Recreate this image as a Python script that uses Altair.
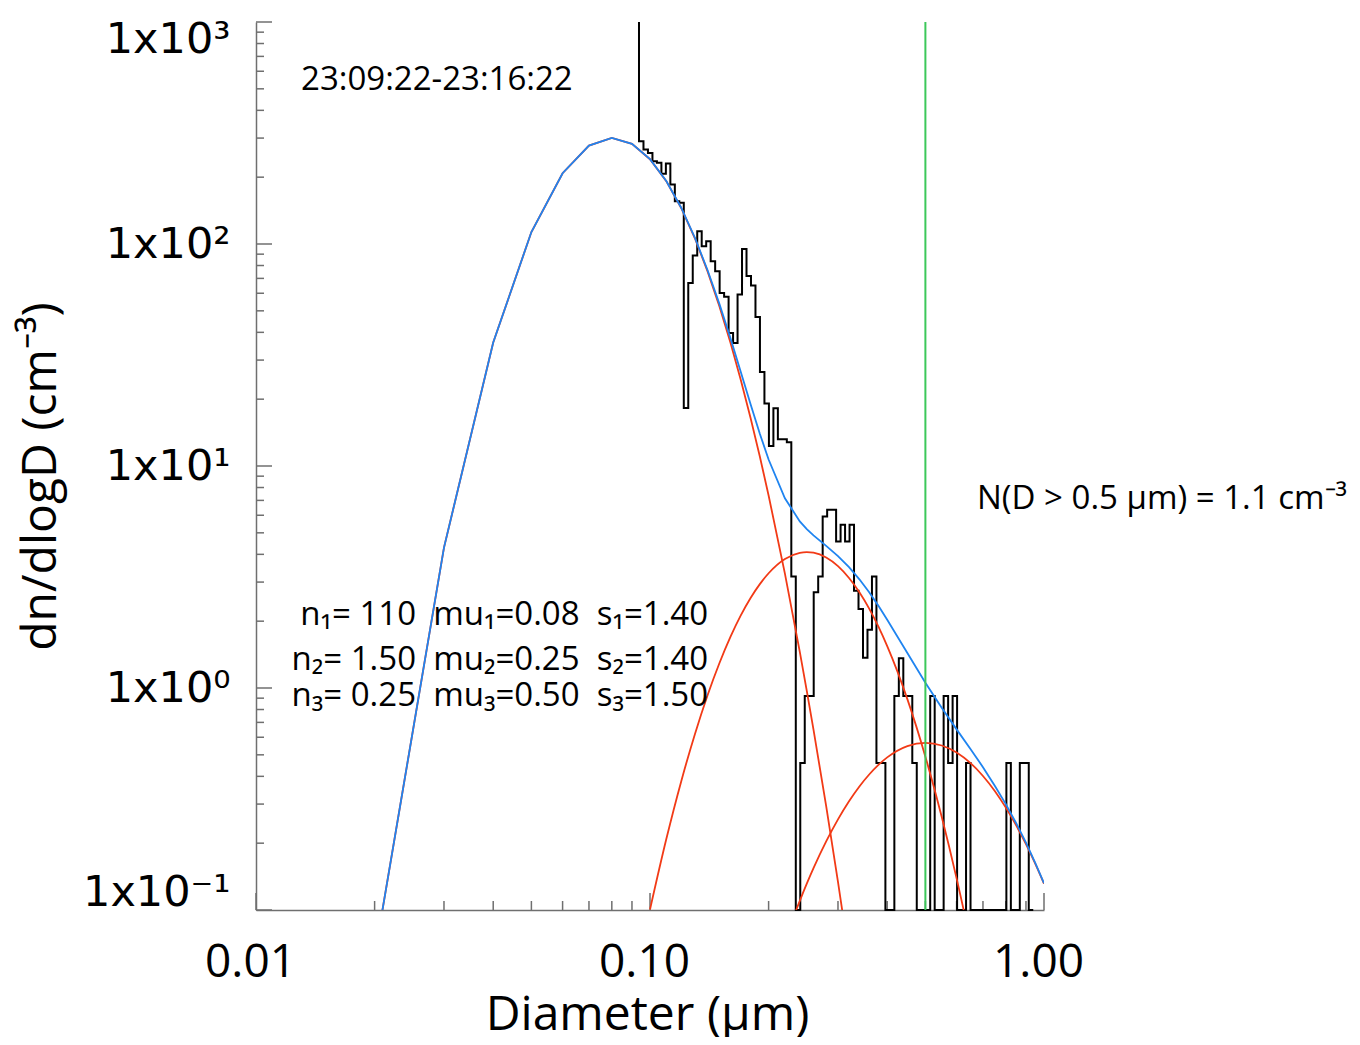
import altair as alt
import pandas as pd

# ---------------- data ----------------
x_ticks_major = [0.01, 0.1, 1.0]
x_tick_labels = ["0.01", "0.10", "1.00"]
x_ticks_minor = [0.02, 0.03, 0.04, 0.05, 0.06, 0.07, 0.08, 0.09,
                 0.2, 0.3, 0.4, 0.5, 0.6, 0.7, 0.8, 0.9]
y_ticks_major = [0.1, 1, 10, 100, 1000]
y_tick_labels = ["1x10⁻¹", "1x10⁰", "1x10¹", "1x10²", "1x10³"]
y_ticks_minor = [0.2, 0.3, 0.4, 0.5, 0.6, 0.7, 0.8, 0.9,
                 2, 3, 4, 5, 6, 7, 8, 9,
                 20, 30, 40, 50, 60, 70, 80, 90,
                 200, 300, 400, 500, 600, 700, 800, 900]

# histogram bin edges (um) and dn/dlogD per bin
hist_edges = [0.09377, 0.09626, 0.09881, 0.10144, 0.10412, 0.10689, 0.10972, 0.11263, 0.11562, 0.11868,
              0.12183, 0.12506, 0.12838, 0.13179, 0.13528, 0.13887, 0.14256, 0.14634, 0.15022, 0.15421,
              0.15830, 0.16250, 0.16681, 0.17123, 0.17577, 0.18044, 0.18522, 0.19013, 0.19518, 0.20036,
              0.20568, 0.21113, 0.21674, 0.22248, 0.22838, 0.23444, 0.24066, 0.24704, 0.25359, 0.26032,
              0.26723, 0.27432, 0.28159, 0.28906, 0.29673, 0.30460, 0.31267, 0.32097, 0.32948, 0.33822,
              0.34723, 0.35644, 0.36589, 0.37559, 0.38555, 0.39578, 0.40628, 0.41705, 0.42811, 0.43946,
              0.45117, 0.46314, 0.47542, 0.48803, 0.50097, 0.51426, 0.52790, 0.54190, 0.55627, 0.57102,
              0.58620, 0.60175, 0.61771, 0.63409, 0.65091, 0.66817, 0.68589, 0.70408, 0.72275, 0.74192,
              0.76166, 0.78186, 0.80260, 0.82388, 0.84573, 0.86816, 0.89118, 0.91482, 0.93918]
hist_values = [290.2, 266.3, 257.3, 235.9, 232.0, 207.0, 230.3, 185.2, 155.7, 153.2,
               18.25, 66.8, 88.7, 114.1, 97.6, 102.8, 83.6, 75.3, 60.2, 57.8,
               39.7, 35.8, 59.2, 95.0, 71.8, 65.1, 46.9, 26.5, 19.1, 12.3,
               18.2, 13.2, 13.2, 12.8, 3.18, 0.1, 0.459, 0.92, 0.92, 2.70,
               3.18, 5.93, 6.35, 6.35, 4.57, 5.44, 4.57, 5.44, 2.74, 2.27,
               1.37, 1.83, 3.18, 0.459, 0.459, 0.1, 0.1, 0.92, 1.36, 0.92,
               0.92, 0.459, 0.1, 0.1, 0.1, 0.92, 0.1, 0.1, 0.92, 0.459,
               0.92, 0.1, 0.1, 0.459, 0.1, 0.1, 0.1, 0.1, 0.1, 0.1,
               0.1, 0.1, 0.459, 0.1, 0.1, 0.459, 0.459, 0.1]
hist_spike_top = 1000

# total fit (blue)
blue_d = [0.02, 0.03, 0.04, 0.05, 0.06, 0.07, 0.08, 0.09, 0.10, 0.11, 0.12, 0.13, 0.14, 0.15,
          0.16, 0.17, 0.18, 0.19, 0.20, 0.22, 0.24, 0.25, 0.26, 0.28, 0.30, 0.32, 0.34, 0.36,
          0.38, 0.40, 0.45, 0.50, 0.55, 0.60, 0.65, 0.70, 0.75, 0.80, 0.85, 0.90, 0.95, 1.00]
blue_v = [0.0619, 4.29, 35.98, 113.2, 208.4, 277.5, 300.3, 282.5, 241.1, 192.1, 145.7, 106.7, 76.2, 53.74,
          37.68, 26.54, 18.99, 13.97, 10.70, 7.157, 5.630, 5.197, 4.872, 4.366, 3.927, 3.500, 3.087, 2.698,
          2.344, 2.031, 1.438, 1.057, 0.814, 0.651, 0.533, 0.440, 0.363, 0.300, 0.246, 0.201, 0.163, 0.132]

# individual modes (red)
mode1_d = [0.02, 0.03, 0.04, 0.05, 0.06, 0.07, 0.08, 0.09, 0.10, 0.11, 0.12, 0.13, 0.14,
           0.15, 0.16, 0.17, 0.18, 0.19, 0.20, 0.22, 0.24, 0.25, 0.26, 0.28, 0.30, 0.32]
mode1_v = [0.0619, 4.289, 35.98, 113.2, 208.4, 277.5, 300.3, 282.5, 241.0, 191.9, 145.3, 106.1, 75.3,
           52.45, 35.98, 24.42, 16.45, 11.03, 7.367, 3.273, 1.455, 0.971, 0.650, 0.2934, 0.1339, 0.0619]
mode2_d = [0.10, 0.11, 0.12, 0.13, 0.14, 0.15, 0.16, 0.17, 0.18, 0.19, 0.20, 0.22, 0.24, 0.25,
           0.26, 0.28, 0.30, 0.32, 0.34, 0.36, 0.38, 0.40, 0.45, 0.50, 0.55, 0.60, 0.65, 0.70]
mode2_v = [0.1005, 0.2087, 0.3795, 0.6196, 0.9279, 1.293, 1.699, 2.123, 2.543, 2.937, 3.287, 3.811, 4.065, 4.095,
           4.068, 3.869, 3.537, 3.129, 2.698, 2.277, 1.888, 1.544, 0.8907, 0.4906, 0.2630, 0.1388, 0.0727, 0.0379]
mode3_d = [0.20, 0.22, 0.24, 0.25, 0.26, 0.28, 0.30, 0.32, 0.34, 0.36, 0.38, 0.40,
           0.45, 0.50, 0.55, 0.60, 0.65, 0.70, 0.75, 0.80, 0.85, 0.90, 0.95, 1.00]
mode3_v = [0.0441, 0.0729, 0.1100, 0.1314, 0.1543, 0.2037, 0.2561, 0.3090, 0.3602, 0.4078, 0.4504, 0.4868,
           0.5475, 0.5662, 0.5508, 0.5119, 0.4596, 0.4015, 0.3436, 0.2892, 0.2405, 0.1980, 0.1618, 0.1314]

cutoff_d = [0.5]

# annotations (non-breaking spaces keep the double gaps)
NB = "\u00a0"
left_texts = ["23:09:22-23:16:22", "N(D > 0.5 µm) = 1.1 cm⁻³"]
left_text_d = [0.01301, 0.676]
left_text_v = [496, 6.42]
param_texts = [f"n₁= 110 {NB}mu₁=0.08 {NB}s₁=1.40",
               f"n₂= 1.50 {NB}mu₂=0.25 {NB}s₂=1.40",
               f"n₃= 0.25 {NB}mu₃=0.50 {NB}s₃=1.50"]
param_text_d = [0.1404, 0.1404, 0.1404]
param_text_v = [1.927, 1.208, 0.832]

# ---------------- chart ----------------
W, H = 788, 888
GRAY = "#6f6f6f"
BLUE = "#1f84f0"
RED = "#f23a16"
GREEN = "#3cc85a"


def label_expr(vals, labels):
    parts = [f"abs(datum.value - {v}) < {v * 0.01} ? '{l}'" for v, l in zip(vals, labels)]
    return " : ".join(parts) + " : ''"


xscale = alt.Scale(type="log", domain=[0.01, 1.0], nice=False)
yscale = alt.Scale(type="log", domain=[0.1, 1000], nice=False)

xaxis = alt.Axis(values=x_ticks_major, labelExpr=label_expr(x_ticks_major, x_tick_labels),
                 ticks=False, grid=False, domainColor=GRAY, domainWidth=1.5,
                 labelFont="Open Sans", labelFontSize=46, labelColor="black", labelPadding=30,
                 labelFlush=False, labelOverlap=False, labelOffset=-6,
                 title="Diameter (µm)", titleFont="Open Sans", titleFontSize=48,
                 titleFontWeight="normal", titleColor="black", titleBaseline="alphabetic",
                 titleAlign="center", titleX=391, titleY=119)
yaxis = alt.Axis(values=y_ticks_major, labelExpr=label_expr(y_ticks_major, y_tick_labels),
                 ticks=False, grid=False, domainColor=GRAY, domainWidth=1.5,
                 labelFont="DejaVu Sans", labelFontSize=43, labelColor="black", labelPadding=26,
                 labelFlush=True, labelFlushOffset=4, labelOverlap=False,
                 title="dn/dlogD (cm⁻³)", titleFont="Open Sans", titleFontSize=48,
                 titleFontWeight="normal", titleColor="black", titleAngle=270,
                 titleAlign="center", titleBaseline="middle", titleX=-215, titleY=454)


def X():
    return alt.X("d:Q", scale=xscale, axis=xaxis)


def Y():
    return alt.Y("v:Q", scale=yscale, axis=yaxis)


# histogram step line
hrows = [{"i": -1, "d": hist_edges[0], "v": hist_spike_top}]
for k, val in enumerate(hist_values):
    hrows.append({"i": k, "d": hist_edges[k], "v": val})
hrows.append({"i": len(hist_values), "d": hist_edges[len(hist_values)], "v": hist_values[-1]})
hist_df = pd.DataFrame(hrows)

hist = alt.Chart(hist_df).mark_line(interpolate="step-after", color="black", strokeWidth=2).encode(
    x=X(), y=Y(), order="i:Q")


def curve(ds, vs, color, interp):
    df = pd.DataFrame({"d": ds, "v": vs, "i": list(range(len(ds)))})
    return alt.Chart(df).mark_line(color=color, strokeWidth=1.8, clip=True, interpolate=interp).encode(
        x=X(), y=Y(), order="i:Q")


red1 = curve(mode1_d, mode1_v, RED, "linear")
red2 = curve(mode2_d, mode2_v, RED, "monotone")
red3 = curve(mode3_d, mode3_v, RED, "monotone")
blue = curve(blue_d, blue_v, BLUE, "linear")

green = alt.Chart(pd.DataFrame({"d": cutoff_d})).mark_rule(color=GREEN, strokeWidth=2).encode(x=X())

# inward ticks
xt_major = alt.Chart(pd.DataFrame({"d": x_ticks_major})).mark_rule(color=GRAY, strokeWidth=1.5).encode(
    x=X(), y=alt.value(H), y2=alt.value(H - 17))
xt_minor = alt.Chart(pd.DataFrame({"d": x_ticks_minor})).mark_rule(color=GRAY, strokeWidth=1.5).encode(
    x=X(), y=alt.value(H), y2=alt.value(H - 9))
yt_major = alt.Chart(pd.DataFrame({"v": y_ticks_major})).mark_rule(color=GRAY, strokeWidth=1.5).encode(
    y=Y(), x=alt.value(0), x2=alt.value(16))
yt_minor = alt.Chart(pd.DataFrame({"v": y_ticks_minor})).mark_rule(color=GRAY, strokeWidth=1.5).encode(
    y=Y(), x=alt.value(0), x2=alt.value(8))

# texts
t_left = alt.Chart(pd.DataFrame({"d": left_text_d, "v": left_text_v, "t": left_texts})).mark_text(
    align="left", baseline="alphabetic", font="Open Sans", fontSize=33, color="black").encode(
    x=X(), y=Y(), text="t:N")
t_params = alt.Chart(pd.DataFrame({"d": param_text_d, "v": param_text_v, "t": param_texts})).mark_text(
    align="right", baseline="alphabetic", font="Open Sans", fontSize=33, color="black").encode(
    x=X(), y=Y(), text="t:N")

chart = alt.layer(
    xt_minor, xt_major, yt_minor, yt_major,
    hist, red1, red2, red3, blue, green, t_left, t_params
).properties(
    width=W, height=H,
    autosize=alt.AutoSizeParams(type="none"),
    padding={"left": 248, "top": 14, "right": 308, "bottom": 127},
).configure_view(stroke=None)

chart.save("out.html", embed_options={"renderer": "svg", "actions": False})
